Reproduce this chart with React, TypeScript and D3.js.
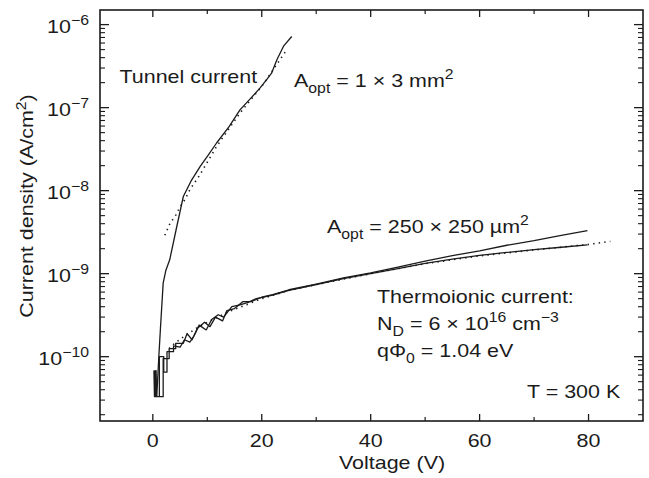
import React from "react";
import * as d3 from "d3";

// measured curves, [voltage V, current density A/cm^2]
const tunnelMeasured: [number, number][] = [
  [0.7, 3.3e-11], [0.9, 5.5e-11], [1.1, 1.0e-10], [1.4, 2.2e-10], [1.9, 7.7e-10],
  [2.4, 1.1e-9], [3.1, 1.47e-9], [4.4, 3.7e-9], [5.6, 8.5e-9], [7.0, 1.3e-8],
  [8.7, 1.96e-8], [10.2, 2.7e-8], [11.7, 3.75e-8], [14.0, 5.9e-8], [16.0, 9.4e-8],
  [18.0, 1.3e-7], [19.7, 1.73e-7], [20.9, 2.18e-7], [21.8, 2.6e-7], [22.8, 3.8e-7],
  [24.0, 5.5e-7], [25.5, 7.2e-7],
];
const tunnelTheory: [number, number][] = [
  [2.2, 2.9e-9], [3.2, 4.1e-9], [4.1, 4.9e-9], [5.0, 6.4e-9], [5.9, 7.8e-9],
  [6.8, 1.03e-8], [8.5, 1.5e-8], [10, 2.2e-8], [11.7, 3.4e-8], [14, 5.6e-8],
  [16, 8.6e-8], [18, 1.25e-7], [20, 1.8e-7], [22, 2.8e-7], [24.6, 5e-7],
];
const thermoUpper: [number, number][] = [
  [0.2, 6.8e-11], [0.3, 3.3e-11], [0.4, 6.8e-11], [0.5, 3.3e-11], [0.6, 6.8e-11],
  [0.7, 3.3e-11], [1.9, 3.3e-11], [1.9, 9.5e-11], [3.0, 9.5e-11], [3.0, 1.25e-10],
  [4.2, 1.25e-10], [4.2, 1.45e-10], [5.6, 1.45e-10], [6.3, 1.9e-10], [7.2, 1.6e-10],
  [8.2, 2.2e-10], [9.5, 2.6e-10], [10.5, 2.3e-10], [11.5, 3.0e-10], [12.8, 2.7e-10],
  [13.6, 3.6e-10], [15, 3.8e-10], [16.5, 4.6e-10], [18, 4.6e-10], [20, 5.2e-10],
  [22, 5.6e-10], [25, 6.4e-10], [30, 7.5e-10], [35, 8.9e-10], [40, 1.02e-9],
  [45, 1.2e-9], [50, 1.42e-9], [55, 1.65e-9], [60, 1.88e-9], [65, 2.2e-9],
  [70, 2.5e-9], [75, 2.9e-9], [79.8, 3.3e-9],
];
const thermoLower: [number, number][] = [
  [1.2, 3.3e-11], [1.2, 1.0e-10], [2.0, 1.0e-10], [2.0, 6.5e-11], [2.6, 6.5e-11],
  [2.6, 1.15e-10], [3.8, 1.15e-10], [3.8, 1.35e-10], [5.0, 1.3e-10], [5.8, 1.6e-10],
  [6.8, 1.5e-10], [7.6, 1.8e-10], [8.5, 2.4e-10], [9.8, 2.1e-10], [10.8, 2.8e-10],
  [12, 3.2e-10], [13, 3.0e-10], [14.5, 4.0e-10], [16, 4.2e-10], [17.5, 4.5e-10],
  [19, 5.0e-10], [22, 5.5e-10], [25, 6.3e-10], [30, 7.4e-10], [35, 8.7e-10],
  [40, 1.0e-9], [45, 1.15e-9], [50, 1.33e-9], [55, 1.5e-9], [60, 1.66e-9],
  [65, 1.8e-9], [70, 1.95e-9], [75, 2.08e-9], [79.8, 2.22e-9],
];
const thermoTheory: [number, number][] = [
  [3, 1.25e-10], [4, 1.45e-10], [6, 1.8e-10], [8, 2.2e-10], [10, 2.6e-10],
  [14, 3.5e-10], [20, 5.0e-10], [25, 6.3e-10], [30, 7.4e-10], [40, 1.0e-9],
  [50, 1.32e-9], [60, 1.64e-9], [70, 1.93e-9], [80, 2.25e-9], [84, 2.45e-9],
];

const xMajor = [0, 20, 40, 60, 80];
const xMinor = [10, 30, 50, 70];
const yExponents = [-10, -9, -8, -7, -6];

const W = 649;
const H = 478;
const box = { left: 100, right: 643, top: 10, bottom: 421 };
const ink = "#1b1b1b";
const font = "'Liberation Sans', Arial, Helvetica, sans-serif";
const SX = 1.13; // scan text is slightly wide

const Label = ({ x, y, anchor = "start", rotate = 0, children }: any) => (
  <text
    transform={`translate(${x},${y}) rotate(${rotate}) scale(${SX},1)`}
    textAnchor={anchor}
    fontFamily={font}
    fontSize={19}
    fill={ink}
  >
    {children}
  </text>
);

export default function App() {
  const x = d3.scaleLinear().domain([-9.7, 90]).range([box.left, box.right]);
  const y = d3.scaleLog().domain([1.68e-11, 1.5e-6]).range([box.bottom, box.top]);
  const line = d3
    .line<[number, number]>()
    .x((d) => x(d[0]))
    .y((d) => y(d[1]));

  // log minor ticks
  const yMinor: number[] = [];
  for (let e = -11; e <= -7; e++) {
    for (let k = 2; k <= 9; k++) {
      const v = k * Math.pow(10, e);
      if (v > y.domain()[0] && v < y.domain()[1]) yMinor.push(v);
    }
  }

  return (
    <svg
      width={W}
      height={H}
      style={{ position: "absolute", left: 0, top: 0, background: "#fff" }}
    >
      <rect x={0} y={0} width={W} height={H} fill="#fff" />

      {/* frame */}
      <rect
        x={box.left}
        y={box.top}
        width={box.right - box.left}
        height={box.bottom - box.top}
        fill="none"
        stroke={ink}
        strokeWidth={1.6}
      />

      {/* x ticks, bottom and top, inward */}
      {xMajor.map((v) => (
        <g key={"xM" + v} stroke={ink} strokeWidth={1.3}>
          <line x1={x(v)} x2={x(v)} y1={box.bottom} y2={box.bottom - 7} />
          <line x1={x(v)} x2={x(v)} y1={box.top} y2={box.top + 7} />
        </g>
      ))}
      {xMinor.map((v) => (
        <g key={"xm" + v} stroke={ink} strokeWidth={1.2}>
          <line x1={x(v)} x2={x(v)} y1={box.bottom} y2={box.bottom - 4} />
          <line x1={x(v)} x2={x(v)} y1={box.top} y2={box.top + 4} />
        </g>
      ))}
      {xMajor.map((v) => (
        <Label key={"xl" + v} x={x(v)} y={447} anchor="middle">
          {v}
        </Label>
      ))}

      {/* y ticks, left and right, inward */}
      {yExponents.map((e) => {
        const py = y(Math.pow(10, e));
        return (
          <g key={"yM" + e} stroke={ink} strokeWidth={1.3}>
            <line x1={box.left} x2={box.left + 9} y1={py} y2={py} />
            <line x1={box.right} x2={box.right - 9} y1={py} y2={py} />
          </g>
        );
      })}
      {yMinor.map((v, i) => (
        <g key={"ym" + i} stroke={ink} strokeWidth={1.1}>
          <line x1={box.left} x2={box.left + 5} y1={y(v)} y2={y(v)} />
          <line x1={box.right} x2={box.right - 5} y1={y(v)} y2={y(v)} />
        </g>
      ))}
      {yExponents.map((e) => (
        <Label key={"yl" + e} x={89} y={y(Math.pow(10, e)) + 8} anchor="end">
          10
          <tspan fontSize={14} dy={-8}>
            {"\u2212" + Math.abs(e)}
          </tspan>
        </Label>
      ))}

      {/* axis titles */}
      <Label x={392} y={469} anchor="middle">
        Voltage (V)
      </Label>
      <Label x={33} y={206} anchor="middle" rotate={-90}>
        Current density (A/cm
        <tspan fontSize={14} dy={-7}>
          2
        </tspan>
        <tspan dy={7}>)</tspan>
      </Label>

      {/* curves */}
      <g fill="none" stroke={ink} strokeWidth={1.3} strokeLinejoin="round">
        <path d={line(tunnelMeasured) || ""} />
        <path d={line(thermoUpper) || ""} />
        <path d={line(thermoLower) || ""} />
      </g>
      <g fill="none" stroke={ink} strokeWidth={1.6} strokeDasharray="1.4 4.2">
        <path d={line(tunnelTheory) || ""} />
        <path d={line(thermoTheory) || ""} />
      </g>

      {/* annotations */}
      <Label x={119.5} y={83}>
        Tunnel current
      </Label>
      <Label x={294} y={87}>
        A
        <tspan fontSize={14} dy={6}>
          opt
        </tspan>
        <tspan dy={-6}> = 1 × 3 mm</tspan>
        <tspan fontSize={14} dy={-8}>
          2
        </tspan>
      </Label>
      <Label x={327} y={233}>
        A
        <tspan fontSize={14} dy={6}>
          opt
        </tspan>
        <tspan dy={-6}> = 250 × 250 µm</tspan>
        <tspan fontSize={14} dy={-8}>
          2
        </tspan>
      </Label>
      <Label x={377} y={302.5}>
        Thermoionic current:
      </Label>
      <Label x={377} y={330}>
        N
        <tspan fontSize={14} dy={6}>
          D
        </tspan>
        <tspan dy={-6}> = 6 × 10</tspan>
        <tspan fontSize={14} dy={-8}>
          16
        </tspan>
        <tspan dy={8}> cm</tspan>
        <tspan fontSize={14} dy={-8}>
          {"\u22123"}
        </tspan>
      </Label>
      <Label x={377} y={357}>
        qΦ
        <tspan fontSize={14} dy={6}>
          0
        </tspan>
        <tspan dy={-6}> = 1.04 eV</tspan>
      </Label>
      <Label x={527} y={398}>
        T = 300 K
      </Label>
    </svg>
  );
}
